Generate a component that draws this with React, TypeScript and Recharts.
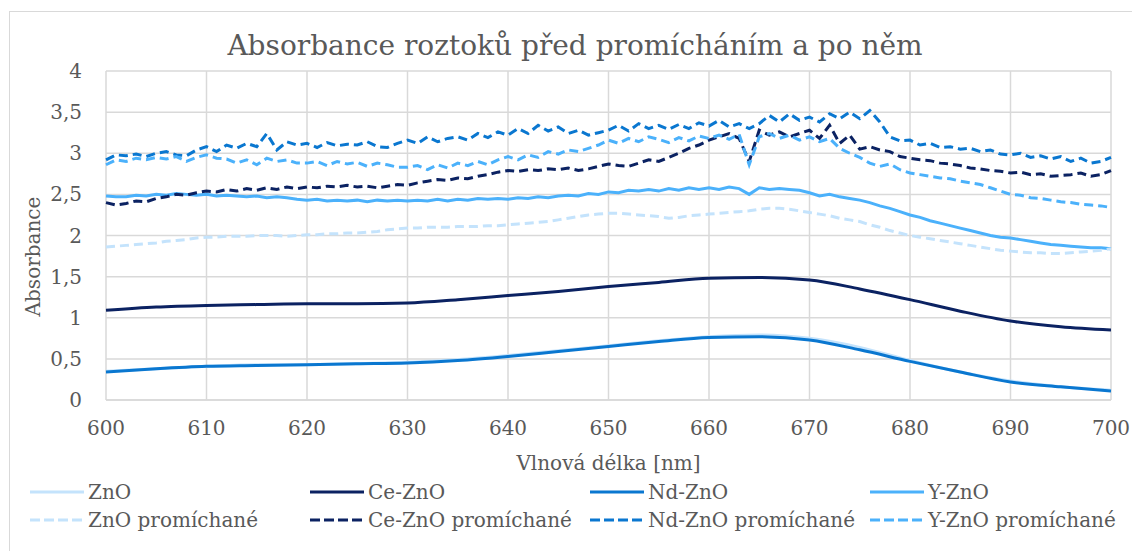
import { LineChart, Line, XAxis, YAxis, CartesianGrid, Legend, Label } from "recharts";

// wavelengths [nm]
const wavelengthsCoarse = [600, 605, 610, 615, 620, 625, 630, 635, 640, 645, 650, 655, 660, 665, 670, 675, 680, 685, 690, 695, 700];
const wavelengthsFine = Array.from({ length: 101 }, (_, i) => 600 + i);

const xTicks = [600, 610, 620, 630, 640, 650, 660, 670, 680, 690, 700];
const yTicks = [0, 0.5, 1, 1.5, 2, 2.5, 3, 3.5, 4];

// before mixing (coarse grid)
const znoValues = [0.35, 0.38, 0.41, 0.43, 0.43, 0.44, 0.46, 0.49, 0.54, 0.6, 0.66, 0.72, 0.77, 0.79, 0.75, 0.64, 0.48, 0.34, 0.23, 0.16, 0.12];
const ceZnoValues = [1.09, 1.13, 1.15, 1.16, 1.17, 1.17, 1.18, 1.22, 1.27, 1.32, 1.38, 1.43, 1.48, 1.49, 1.46, 1.35, 1.22, 1.08, 0.96, 0.89, 0.85];
const ndZnoValues = [0.34, 0.38, 0.41, 0.42, 0.43, 0.44, 0.45, 0.48, 0.53, 0.59, 0.65, 0.71, 0.76, 0.77, 0.73, 0.61, 0.47, 0.34, 0.22, 0.16, 0.11];

// fine grid (1 nm)
const yZnoValues = [
  2.48, 2.47, 2.47, 2.49, 2.48, 2.5, 2.49, 2.51, 2.5, 2.49,
  2.5, 2.48, 2.49, 2.48, 2.47, 2.48, 2.46, 2.47, 2.46, 2.44,
  2.43, 2.44, 2.42, 2.43, 2.42, 2.43, 2.41, 2.43, 2.42, 2.43,
  2.42, 2.43, 2.42, 2.44, 2.42, 2.44, 2.43, 2.45, 2.44, 2.45,
  2.44, 2.46, 2.45, 2.47, 2.46, 2.48, 2.49, 2.48, 2.51, 2.5,
  2.53, 2.52, 2.55, 2.54, 2.56, 2.54, 2.57, 2.55, 2.58, 2.56,
  2.58, 2.56, 2.59, 2.57, 2.5, 2.58, 2.56, 2.57, 2.56, 2.55,
  2.52, 2.48, 2.5, 2.47, 2.45, 2.43, 2.4, 2.36, 2.33, 2.29,
  2.25, 2.22, 2.18, 2.15, 2.12, 2.09, 2.06, 2.03, 2.0, 1.98,
  1.97, 1.95, 1.93, 1.91, 1.89, 1.88, 1.87, 1.86, 1.85, 1.85,
  1.84,
];

// after mixing
const znoMixValues = [
  1.86, 1.87, 1.88, 1.89, 1.9, 1.91, 1.93, 1.94, 1.95, 1.97,
  1.98, 1.98, 1.99, 1.99, 1.99, 2.0, 2.0, 2.0, 1.99, 2.0,
  2.01, 2.01, 2.02, 2.02, 2.03, 2.03, 2.04, 2.05, 2.07, 2.08,
  2.09, 2.09, 2.1, 2.1, 2.1, 2.11, 2.11, 2.11, 2.12, 2.12,
  2.13, 2.14, 2.15, 2.16, 2.17, 2.19, 2.21, 2.23, 2.25, 2.26,
  2.27, 2.27, 2.26, 2.25, 2.24, 2.23, 2.21, 2.22, 2.24, 2.25,
  2.26, 2.27, 2.28, 2.29, 2.3, 2.32, 2.33, 2.33, 2.32, 2.3,
  2.28, 2.26, 2.24, 2.21, 2.19, 2.17, 2.13, 2.1, 2.06, 2.03,
  2.0, 1.98, 1.96, 1.94, 1.92, 1.9, 1.88, 1.86, 1.84, 1.82,
  1.81, 1.8, 1.79, 1.79, 1.78, 1.78, 1.79, 1.8, 1.81, 1.82,
  1.84,
];
const ceZnoMixValues = [
  2.4, 2.37, 2.39, 2.42, 2.41, 2.45, 2.47, 2.5, 2.49, 2.52,
  2.54, 2.53, 2.56, 2.54, 2.57, 2.55, 2.58, 2.56, 2.59, 2.57,
  2.59, 2.58, 2.6, 2.59, 2.61, 2.59, 2.6, 2.58, 2.6, 2.62,
  2.61, 2.64, 2.66, 2.68, 2.67, 2.7, 2.69, 2.72, 2.74, 2.77,
  2.79, 2.78, 2.8, 2.79, 2.81, 2.8, 2.82, 2.79, 2.81, 2.84,
  2.87, 2.85, 2.84, 2.88, 2.92, 2.9, 2.95, 3.0, 3.06, 3.1,
  3.16, 3.2, 3.24, 3.18, 2.9, 3.28, 3.22, 3.26, 3.2, 3.24,
  3.28, 3.18, 3.34, 3.12, 3.22, 3.05, 3.08, 3.04, 3.02, 2.96,
  2.94, 2.92, 2.91, 2.88, 2.87, 2.85, 2.82, 2.81, 2.79, 2.78,
  2.76, 2.77, 2.74, 2.75, 2.72, 2.73, 2.74, 2.76, 2.72, 2.74,
  2.79,
];
const ndZnoMixValues = [
  2.92, 2.98, 2.97, 2.99, 2.96, 3.0, 3.02, 2.98, 2.97, 3.04,
  3.08, 3.02, 3.1, 3.06, 3.12, 3.08, 3.24, 3.04, 3.14, 3.1,
  3.12, 3.07, 3.13, 3.09, 3.11, 3.1, 3.14, 3.08, 3.07, 3.12,
  3.16, 3.12, 3.2, 3.14, 3.18, 3.2, 3.16, 3.24, 3.19, 3.26,
  3.22, 3.3, 3.24, 3.34, 3.27, 3.32, 3.24, 3.28, 3.22, 3.25,
  3.28, 3.34, 3.27, 3.36, 3.3, 3.34, 3.29, 3.35, 3.3, 3.37,
  3.33, 3.4, 3.32, 3.36, 3.3, 3.36, 3.46, 3.38, 3.48, 3.4,
  3.44, 3.38, 3.48, 3.42, 3.5, 3.42, 3.52, 3.38, 3.2, 3.15,
  3.16, 3.1, 3.12, 3.07, 3.08, 3.05, 3.06, 3.02, 3.04, 2.99,
  2.98, 3.0, 2.95, 2.97, 2.93, 2.96, 2.9, 2.94, 2.88, 2.9,
  2.95,
];
const yZnoMixValues = [
  2.86, 2.92, 2.9, 2.94, 2.92, 2.95, 2.93, 2.96, 2.9, 2.95,
  2.98, 2.94, 2.93, 2.88, 2.92, 2.86, 2.94, 2.9, 2.92, 2.88,
  2.88, 2.9, 2.85, 2.9, 2.87, 2.89, 2.84, 2.88, 2.86, 2.83,
  2.83, 2.85, 2.8, 2.86, 2.82, 2.88, 2.85, 2.9, 2.86, 2.92,
  2.96, 2.92, 2.98, 2.95, 3.02, 2.99, 3.04, 3.02, 3.06, 3.1,
  3.16, 3.12, 3.18, 3.14, 3.2, 3.17, 3.13, 3.19, 3.15, 3.21,
  3.18, 3.22, 3.17, 3.23, 2.86, 3.2, 3.24, 3.18, 3.22, 3.16,
  3.2, 3.14, 3.18, 3.06, 3.0, 2.95, 2.88, 2.84, 2.87, 2.8,
  2.76, 2.74, 2.72, 2.7, 2.69, 2.66, 2.64, 2.62, 2.58, 2.54,
  2.5, 2.49, 2.46, 2.45, 2.43, 2.41, 2.4, 2.38, 2.37, 2.36,
  2.34,
];

const FONT = "DejaVu Serif, Liberation Serif, Noto Serif, serif";
const TEXT = "#595959";
const GRID = "#d9d9d9";
const DASH = "9 5";

const toPoints = (xs: number[], ys: number[]) => xs.map((x, i) => ({ x, y: ys[i] }));

const series = [
  { name: "ZnO", color: "#c4e3fc", dashed: false, smooth: true, data: toPoints(wavelengthsCoarse, znoValues) },
  { name: "Ce-ZnO", color: "#0b2262", dashed: false, smooth: true, data: toPoints(wavelengthsCoarse, ceZnoValues) },
  { name: "Nd-ZnO", color: "#0a77d0", dashed: false, smooth: true, data: toPoints(wavelengthsCoarse, ndZnoValues) },
  { name: "Y-ZnO", color: "#4bb1fb", dashed: false, smooth: false, data: toPoints(wavelengthsFine, yZnoValues) },
  { name: "ZnO promíchané", color: "#c4e3fc", dashed: true, smooth: false, data: toPoints(wavelengthsFine, znoMixValues) },
  { name: "Ce-ZnO promíchané", color: "#0b2262", dashed: true, smooth: false, data: toPoints(wavelengthsFine, ceZnoMixValues) },
  { name: "Nd-ZnO promíchané", color: "#0a77d0", dashed: true, smooth: false, data: toPoints(wavelengthsFine, ndZnoMixValues) },
  { name: "Y-ZnO promíchané", color: "#4bb1fb", dashed: true, smooth: false, data: toPoints(wavelengthsFine, yZnoMixValues) },
];

function ChartLegend() {
  return (
    <div style={{ position: "relative", width: 1132, height: 60 }}>
      {series.map((s, i) => {
        const col = i % 4;
        const row = Math.floor(i / 4);
        return (
          <div
            key={s.name}
            style={{
              position: "absolute",
              left: 30 + col * 280,
              top: row * 28,
              height: 28,
              display: "flex",
              alignItems: "center",
              fontFamily: FONT,
              fontSize: 20,
              color: TEXT,
              whiteSpace: "nowrap",
            }}
          >
            <svg width={54} height={10} style={{ marginRight: 4 }}>
              <line x1={0} y1={5} x2={54} y2={5} stroke={s.color} strokeWidth={3} strokeDasharray={s.dashed ? "10 4" : undefined} />
            </svg>
            {s.name}
          </div>
        );
      })}
    </div>
  );
}

export default function App() {
  return (
    <div style={{ position: "absolute", left: 0, top: 0, width: 1132, height: 551, background: "#fff", overflow: "hidden" }}>
      <div style={{ position: "absolute", left: 9, top: 11, width: 1140, height: 560, border: `1px solid ${GRID}` }} />
      <div
        style={{
          position: "absolute",
          left: 0,
          top: 28,
          width: 1150,
          textAlign: "center",
          fontFamily: FONT,
          fontSize: 28,
          color: TEXT,
          lineHeight: "36px",
        }}
      >
        Absorbance roztoků před promícháním a po něm
      </div>
      <div style={{ position: "absolute", left: 0, top: 0 }}>
        <LineChart width={1132} height={551} margin={{ top: 71, right: 21, bottom: 13, left: 26 }}>
          <CartesianGrid stroke={GRID} strokeWidth={1.5} vertical horizontal />
          <XAxis
            type="number"
            dataKey="x"
            domain={[600, 700]}
            ticks={xTicks}
            allowDuplicatedCategory={false}
            height={78}
            stroke={GRID}
            strokeWidth={1.5}
            tickLine={false}
            tickSize={0}
            tickMargin={21}
            tick={{ fill: TEXT, fontSize: 20, fontFamily: FONT }}
          >
            <Label value="Vlnová délka [nm]" position="insideBottom" offset={8} fill={TEXT} fontSize={20} fontFamily={FONT} />
          </XAxis>
          <YAxis
            type="number"
            domain={[0, 4]}
            ticks={yTicks}
            width={80}
            axisLine={false}
            tickLine={false}
            tickSize={0}
            tickMargin={24}
            tickFormatter={(v: number) => String(v).replace(".", ",")}
            tick={{ fill: TEXT, fontSize: 20, fontFamily: FONT }}
          >
            <Label
              content={({ viewBox }: any) => (
                <text
                  x={40}
                  y={viewBox.y + viewBox.height / 2 + 21}
                  transform={`rotate(-90, 40, ${viewBox.y + viewBox.height / 2 + 21})`}
                  textAnchor="middle"
                  fill={TEXT}
                  fontSize={20}
                  fontFamily={FONT}
                >
                  Absorbance
                </text>
              )}
            />
          </YAxis>
          <Legend verticalAlign="bottom" height={60} content={() => <ChartLegend />} wrapperStyle={{ left: 0, width: 1132 }} />
          {series.map((s) => (
            <Line
              key={s.name}
              name={s.name}
              data={s.data}
              dataKey="y"
              type={s.smooth ? "monotone" : "linear"}
              stroke={s.color}
              strokeWidth={3}
              strokeDasharray={s.dashed ? DASH : undefined}
              dot={false}
              activeDot={false}
              isAnimationActive={false}
            />
          ))}
        </LineChart>
      </div>
    </div>
  );
}
